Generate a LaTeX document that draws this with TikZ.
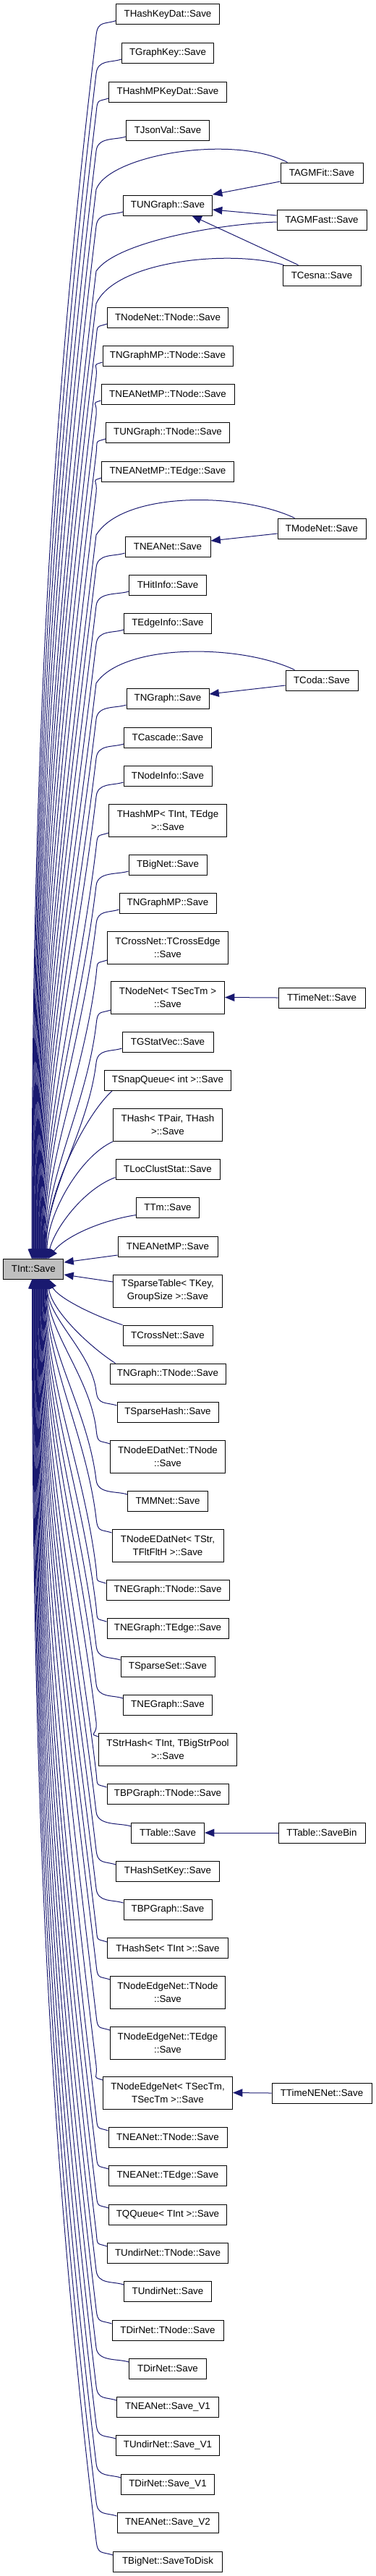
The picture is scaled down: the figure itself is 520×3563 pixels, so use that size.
\documentclass[tikz,border=0pt]{standalone}
\usepackage{fontspec}
\setmainfont{Liberation Sans}
\usetikzlibrary{arrows.meta,calc}
\definecolor{edgecol}{HTML}{191970}
\definecolor{tintfill}{HTML}{BFBFBF}
\tikzset{
  box/.style={draw=black, line width=0.75pt, fill=white, inner sep=0pt, align=center,
    font=\fontsize{10}{13.5}\selectfont},
  edge/.style={draw=edgecol, line width=0.75pt, -{Triangle[length=10pt,width=8pt]}, fill=none}
}
\newcommand\mynode[6]{\node[box,minimum width=#4*0.75pt,minimum height=#5*0.75pt] (#1) at (#2,#3) {#6};}
\newcommand\uedge[3]{%
  \pgfmathsetmacro\myky{#2+20}%
  \pgfmathsetmacro\myhh{0.35*(1741-\myky)}%
  \pgfmathsetmacro\myhx{-0.12*\myhh}%
  \coordinate (tmp) at (0,#2);%
  \draw[edge] (#1.west |- tmp) .. controls +(-15,5) and +(2,-20) .. (133,\myky) .. controls +(\myhx,\myhh) and +(0,-\myhh) .. (#3,1741);%
}
\newcommand\dedge[3]{%
  \pgfmathsetmacro\myky{#2-20}%
  \pgfmathsetmacro\myhh{0.35*(\myky-1769)}%
  \pgfmathsetmacro\myhx{-0.12*\myhh}%
  \coordinate (tmp) at (0,#2);%
  \draw[edge] (#1.west |- tmp) .. controls +(-15,-5) and +(2,20) .. (133,\myky) .. controls +(\myhx,-\myhh) and +(0,\myhh) .. (#3,1769);%
}
\newcommand\redge[7]{%
  \pgfmathsetmacro\myhh{0.35*(1741-#6)}%
  \pgfmathsetmacro\myhx{-0.12*\myhh}%
  \draw[edge] (#1) .. controls (#2,#3) and (#4,#5) .. (133,#6) .. controls +(\myhx,\myhh) and +(0,-\myhh) .. (#7,1741);%
}
\begin{document}
\begin{tikzpicture}[x=0.75pt,y=-0.75pt]
\useasboundingbox (0,0) rectangle (520,3563);
% main node
\node[box,fill=tintfill,minimum width=83.3*0.75pt,minimum height=28*0.75pt] (tint) at (46.3,1755) {TInt::Save};
% middle column
\mynode{hkd}{232}{19.7}{143}{28}{THashKeyDat::Save}
\mynode{gk}{232}{73}{127}{28}{TGraphKey::Save}
\mynode{hmpkd}{232}{127}{163}{28}{THashMPKeyDat::Save}
\mynode{jv}{232}{180}{115}{28}{TJsonVal::Save}
\mynode{ung}{232}{284}{123}{28}{TUNGraph::Save}
\mynode{nnt}{232}{439}{167}{28}{TNodeNet::TNode::Save}
\mynode{ngmpt}{232}{492}{180}{28}{TNGraphMP::TNode::Save}
\mynode{neampt}{232}{545}{184}{28}{TNEANetMP::TNode::Save}
\mynode{ungt}{232}{598}{171}{28}{TUNGraph::TNode::Save}
\mynode{neampe}{232}{652}{183}{28}{TNEANetMP::TEdge::Save}
\mynode{nea}{232}{756}{118}{28}{TNEANet::Save}
\mynode{hit}{232}{809}{107}{28}{THitInfo::Save}
\mynode{ei}{232}{862}{121}{28}{TEdgeInfo::Save}
\mynode{ng}{232}{966}{114}{28}{TNGraph::Save}
\mynode{cas}{232}{1020}{121}{28}{TCascade::Save}
\mynode{ni}{232}{1073}{122}{28}{TNodeInfo::Save}
\mynode{hmp}{232}{1134.5}{163}{45}{THashMP< TInt, TEdge\\ >::Save}
\mynode{bn}{232}{1196}{108}{28}{TBigNet::Save}
\mynode{ngmp}{232}{1249}{134}{28}{TNGraphMP::Save}
\mynode{cnce}{232}{1310.5}{167}{45}{TCrossNet::TCrossEdge\\ ::Save}
\mynode{nnst}{232}{1379.5}{157}{45}{TNodeNet< TSecTm >\\ ::Save}
\mynode{gsv}{232}{1441}{126}{28}{TGStatVec::Save}
\mynode{sq}{232}{1494.5}{175}{28}{TSnapQueue< int >::Save}
\mynode{hp}{232}{1556}{151}{45}{THash< TPair, THash\\ >::Save}
\mynode{lcs}{232}{1617}{144}{28}{TLocClustStat::Save}
\mynode{tm}{232}{1670}{87}{28}{TTm::Save}
\mynode{neamp}{232}{1724}{138}{28}{TNEANetMP::Save}
\mynode{st}{232}{1785.5}{151}{45}{TSparseTable< TKey,\\ GroupSize >::Save}
\mynode{cn}{232}{1847}{124}{28}{TCrossNet::Save}
\mynode{ngt}{232}{1900}{160}{28}{TNGraph::TNode::Save}
\mynode{sh}{232}{1953}{140}{28}{TSparseHash::Save}
\mynode{nedt}{232}{2014.5}{159}{45}{TNodeEDatNet::TNode\\ ::Save}
\mynode{mm}{232}{2076}{111}{28}{TMMNet::Save}
\mynode{nedstr}{232}{2137.5}{154}{45}{TNodeEDatNet< TStr,\\ TFltFltH >::Save}
\mynode{negt}{232}{2199}{170}{28}{TNEGraph::TNode::Save}
\mynode{nege}{232}{2252}{168}{28}{TNEGraph::TEdge::Save}
\mynode{ss}{232}{2305}{130}{28}{TSparseSet::Save}
\mynode{neg}{232}{2358}{123}{28}{TNEGraph::Save}
\mynode{strh}{232}{2419.5}{191}{45}{TStrHash< TInt, TBigStrPool\\ >::Save}
\mynode{bpgt}{232}{2481}{168}{28}{TBPGraph::TNode::Save}
\mynode{tab}{232}{2535}{101}{28}{TTable::Save}
\mynode{hsk}{232}{2588}{143}{28}{THashSetKey::Save}
\mynode{bpg}{232}{2641}{122}{28}{TBPGraph::Save}
\mynode{hs}{232}{2694.5}{167}{28}{THashSet< TInt >::Save}
\mynode{nent}{232}{2756}{159}{45}{TNodeEdgeNet::TNode\\ ::Save}
\mynode{nene}{232}{2825.5}{159}{45}{TNodeEdgeNet::TEdge\\ ::Save}
\mynode{nenst}{232}{2894.5}{179}{45}{TNodeEdgeNet< TSecTm,\\ TSecTm >::Save}
\mynode{neant}{232}{2956}{164}{28}{TNEANet::TNode::Save}
\mynode{neae}{232}{3009}{163}{28}{TNEANet::TEdge::Save}
\mynode{qq}{232}{3063}{163}{28}{TQQueue< TInt >::Save}
\mynode{udnt}{232}{3116}{167}{28}{TUndirNet::TNode::Save}
\mynode{udn}{232}{3169}{121}{28}{TUndirNet::Save}
\mynode{dnt}{232}{3223}{154}{28}{TDirNet::TNode::Save}
\mynode{dn}{232}{3276}{107}{28}{TDirNet::Save}
\mynode{neavone}{232}{3329}{141}{28}{TNEANet::Save\_V1}
\mynode{udnvone}{232}{3382}{143}{28}{TUndirNet::Save\_V1}
\mynode{dnvone}{232}{3436}{129}{28}{TDirNet::Save\_V1}
\mynode{neavtwo}{232}{3489}{140}{28}{TNEANet::Save\_V2}
\mynode{bnsd}{232}{3543}{151}{28}{TBigNet::SaveToDisk}
% right column
\mynode{agmfit}{445}{239}{114}{28}{TAGMFit::Save}
\mynode{agmfast}{445}{304}{124}{28}{TAGMFast::Save}
\mynode{cesna}{445}{381}{108}{28}{TCesna::Save}
\mynode{modenet}{445}{731}{122}{28}{TModeNet::Save}
\mynode{coda}{445}{941}{100}{28}{TCoda::Save}
\mynode{timenet}{445}{1380}{120}{28}{TTimeNet::Save}
\mynode{savebin}{445}{2535}{120}{28}{TTable::SaveBin}
\mynode{timenenet}{445}{2895}{138}{28}{TTimeNENet::Save}
% edges above TInt
\uedge{hkd}{28.7}{44}
\uedge{gk}{82}{44.75}
\uedge{hmpkd}{136}{45.5}
\uedge{jv}{189}{46.25}
\redge{$(agmfit.north west)+(10,0)$}{320}{185}{150}{215}{262}{47}
\uedge{ung}{293}{47.75}
\redge{$(agmfast.west)+(0,3)$}{300}{310}{160}{335}{375}{48.5}
\redge{$(cesna.north west)+(2,0)$}{320}{345}{160}{360}{420}{49.25}
\uedge{nnt}{448}{50}
\uedge{ngmpt}{501}{50.75}
\uedge{neampt}{554}{51.5}
\uedge{ungt}{607}{52.25}
\uedge{neampe}{661}{53}
\redge{$(modenet.north west)+(24,0)$}{330}{680}{170}{680}{740}{53.75}
\uedge{nea}{765}{54.5}
\uedge{hit}{818}{55.25}
\uedge{ei}{871}{56}
\redge{$(coda.north west)+(13,0)$}{330}{890}{170}{890}{945}{56.75}
\uedge{ng}{975}{57.5}
\uedge{cas}{1029}{58.25}
\uedge{ni}{1082}{59}
\uedge{hmp}{1152}{59.75}
\uedge{bn}{1205}{60.5}
\uedge{ngmp}{1258}{61.25}
\uedge{cnce}{1328}{62}
\uedge{nnst}{1397}{62.75}
\uedge{gsv}{1450}{63.5}
\draw[edge] ($(sq.south west)+(11,0)$) .. controls (120,1540) and (62,1650) .. (64.25,1741);
\draw[edge] (hp.south west) .. controls (110,1600) and (65,1680) .. (65,1741);
\draw[edge] ($(lcs.south west)+(0,-3)$) .. controls (115,1645) and (75,1700) .. (65.75,1741);
\draw[edge] ($(tm.south west)+(0,-4)$) .. controls (140,1688) and (90,1710) .. (66.5,1741);
% side edges into TInt
\draw[edge] ($(neamp.west)+(0,12)$) -- ($(tint.east)+(0,-9)$);
\draw[edge] ($(st.west)+(0,-12.5)$) -- ($(tint.east)+(0,8)$);
% edges below TInt
\draw[edge] (cn.north west) .. controls (130,1820) and (80,1795) .. (67,1769);
\draw[edge] ($(ngt.north west)+(8,0)$) .. controls (120,1860) and (70,1810) .. (66.25,1769);
\dedge{sh}{1944}{65.5}
\dedge{nedt}{1997}{64.75}
\dedge{mm}{2067}{64}
\dedge{nedstr}{2120}{63.25}
\dedge{negt}{2190}{62.5}
\dedge{nege}{2243}{61.75}
\dedge{ss}{2296}{61}
\dedge{neg}{2349}{60.25}
\dedge{strh}{2402}{59.5}
\dedge{bpgt}{2472}{58.75}
\dedge{tab}{2526}{58}
\dedge{hsk}{2579}{57.25}
\dedge{bpg}{2632}{56.5}
\dedge{hs}{2686}{55.75}
\dedge{nent}{2738}{55}
\dedge{nene}{2808}{54.25}
\dedge{nenst}{2877}{53.5}
\dedge{neant}{2947}{52.75}
\dedge{neae}{3000}{52}
\dedge{qq}{3054}{51.25}
\dedge{udnt}{3107}{50.5}
\dedge{udn}{3160}{49.75}
\dedge{dnt}{3214}{49}
\dedge{dn}{3267}{48.25}
\dedge{neavone}{3320}{47.5}
\dedge{udnvone}{3373}{46.75}
\dedge{dnvone}{3427}{46}
\dedge{neavtwo}{3480}{45.25}
\dedge{bnsd}{3534}{44.5}
% second-level edges
\draw[edge] ($(agmfit.west)+(0,12)$) -- ($(ung.east)+(0,-15)$);
\draw[edge] ($(agmfast.west)+(0,-6)$) -- ($(ung.east)+(0,6)$);
\draw[edge] ($(cesna.north west)+(22,0)$) -- ($(ung.south)+(33.5,0)$);
\draw[edge] ($(modenet.west)+(0,7)$) -- ($(nea.east)+(0,-8)$);
\draw[edge] ($(coda.west)+(0,7)$) -- ($(ng.east)+(0,-6)$);
\draw[edge] (timenet.west) -- (nnst.east);
\draw[edge] (savebin.west) -- (tab.east);
\draw[edge] (timenenet.west) -- (nenst.east);
\end{tikzpicture}
\end{document}
